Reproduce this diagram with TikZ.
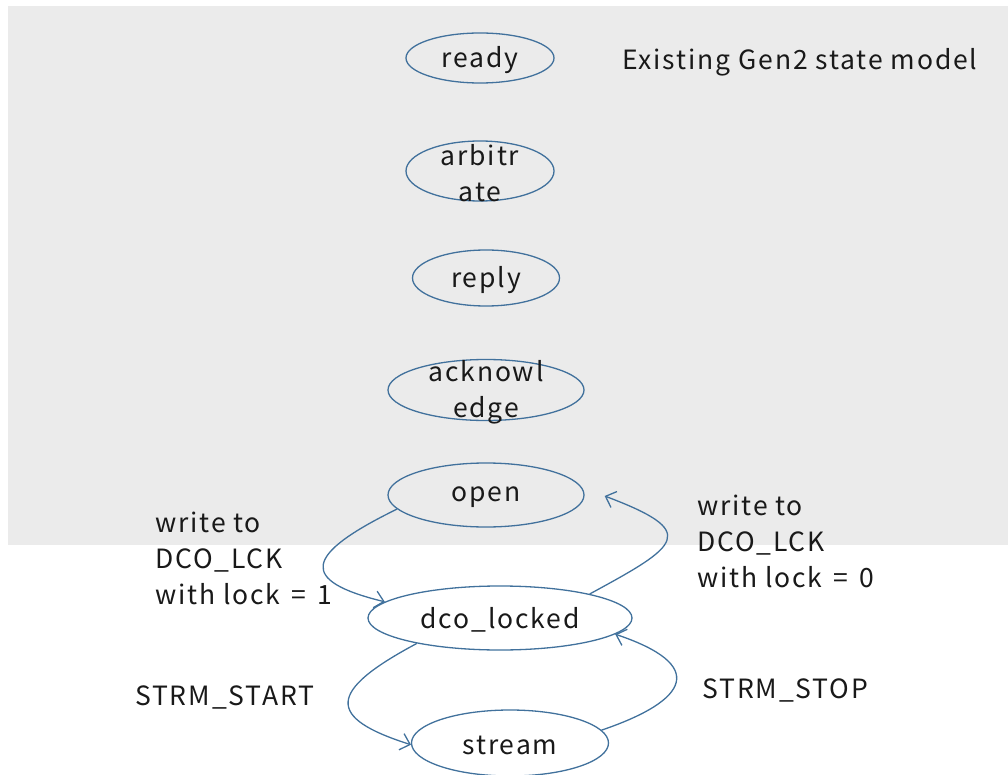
\documentclass[tikz,border=0pt]{standalone}
\usepackage{fontspec}
\setmainfont{Noto Sans CJK JP}[LetterSpace=7]
\usetikzlibrary{shapes.geometric,arrows.meta}
\definecolor{edgeblue}{HTML}{41719C}
\definecolor{bggray}{HTML}{EBEBEB}
\newcommand{\eqsp}{\hspace{11pt}=\hspace{11pt}}
\tikzset{
  st/.style 2 args={ellipse, draw=edgeblue, line width=1.3pt, minimum width=#1pt, minimum height=#2pt, inner sep=0pt},
  lbl/.style={font=\fontsize{26.5}{36}\selectfont, text=black!90, inner sep=0pt, align=left},
  tr/.style={draw=edgeblue, line width=1.3pt, -{Straight Barb[length=9pt,width=17pt]}},
}
\begin{document}
\begin{tikzpicture}[x=1pt,y=-1pt]
\useasboundingbox (0,0) rectangle (1008,775);
\fill[bggray] (8,6) rectangle (1008,545);
\tikzset{every label/.style={lbl, align=center, yshift=-2pt}}
\node[st={148}{50}, label=center:ready] (ready) at (480,58) {};
\node[st={148}{60}, label={center:arbitr\\ate}] (arb) at (480,171) {};
\node[st={147}{56}, label=center:reply] (reply) at (486,278) {};
\node[st={196}{61}, label={center:acknowl\\edge}] (ack) at (486,390) {};
\node[st={196}{64}, label=center:open] (open) at (486,495) {};
\node[st={264}{64}, label=center:dco\_locked] (dco) at (500,618) {};
\node[st={197}{66}, label=center:stream] (stream) at (510,743) {};
\coordinate (openR) at ([xshift=20pt,yshift=-1pt]open.east);
\node[lbl, anchor=west] (tE) at (622,62) {Existing Gen2 state model};
\node[lbl, anchor=west] (t1) at (155,558) {write to\\DCO\_LCK\\with lock\eqsp 1};
\node[lbl, anchor=west] (t0) at (697,541) {write to\\DCO\_LCK\\with lock\eqsp 0};
\node[lbl, anchor=west] (tS) at (135,697) {STRM\_START};
\node[lbl, anchor=west] (tP) at (702,690) {STRM\_STOP};
\draw[tr] (open.189) .. controls +(-94,46) and +(-86,-21) .. (dco.172);
\draw[tr] (dco.15) .. controls (680,545) and (700,532) .. (openR);
\draw[tr] (dco.197) .. controls +(-90,48) and +(-85,-27) .. (stream.181);
\draw[tr] (stream.8) .. controls (690,700) and (707,665) .. (dco.352);
\end{tikzpicture}
\end{document}
